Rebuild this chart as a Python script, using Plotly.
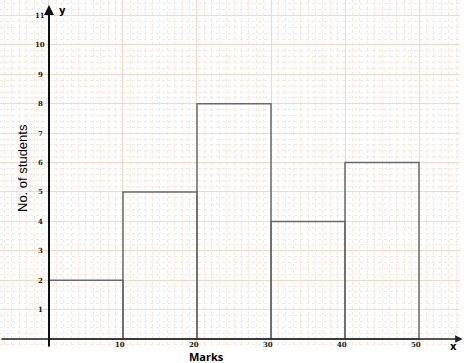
import plotly.graph_objects as go

# Data
class_starts = [0, 10, 20, 30, 40]
class_width = 10
students = [2, 5, 8, 4, 6]
x_ticks = [10, 20, 30, 40, 50]
y_ticks = [1, 2, 3, 4, 5, 6, 7, 8, 9, 10, 11]

X0, X1 = -6.62, 55.54
Y0, Y1 = -0.306, 11.53

centers = [s + class_width / 2 for s in class_starts]

fig = go.Figure()
fig.add_trace(go.Bar(
    x=centers, y=students, width=[class_width] * len(students),
    marker=dict(color="rgba(0,0,0,0)", line=dict(color="#6a6a6a", width=1.5)),
    showlegend=False, hoverinfo="skip",
))

grid_major = "#f6d8c8"
grid_minor = "#fae6dc"

fig.update_layout(
    width=468, height=363,
    margin=dict(l=0, r=8, t=0, b=15),
    paper_bgcolor="white", plot_bgcolor="white",
    xaxis=dict(range=[X0, X1], showticklabels=False, ticks="", zeroline=False,
               showgrid=True, gridcolor=grid_major, gridwidth=1, dtick=10, tick0=0,
               minor=dict(dtick=1, showgrid=True, gridcolor=grid_minor, griddash="dot", gridwidth=1),
               fixedrange=True, showline=False),
    yaxis=dict(range=[Y0, Y1], showticklabels=False, ticks="", zeroline=False,
               showgrid=True, gridcolor=grid_major, gridwidth=1, dtick=1, tick0=0,
               minor=dict(dtick=0.2, showgrid=True, gridcolor=grid_minor, griddash="dot", gridwidth=1),
               fixedrange=True, showline=False),
    font=dict(family="Liberation Sans Narrow, Arial", color="black"),
)

# axes with arrows
fig.add_annotation(x=55.9, y=0, ax=X0, ay=0, xref="x", yref="y", axref="x", ayref="y",
                   text="", showarrow=True, arrowhead=2, arrowsize=1, arrowwidth=1.5,
                   arrowcolor="#222")
fig.add_annotation(x=0, y=11.36, ax=0, ay=Y0, xref="x", yref="y", axref="x", ayref="y",
                   text="", showarrow=True, arrowhead=2, arrowsize=1, arrowwidth=2,
                   arrowcolor="#111")

# tick labels
for v in y_ticks:
    fig.add_annotation(x=-1.2, y=v, xref="x", yref="y", text=f"<b>{v}</b>", showarrow=False,
                       font=dict(size=7, family="DejaVu Serif", color="#222"))
for v in x_ticks:
    fig.add_annotation(x=v - 0.4, y=-0.19, xref="x", yref="y", text=f"<b>{v}</b>", showarrow=False,
                       font=dict(size=7, family="DejaVu Serif", color="#222"))

# axis letters
fig.add_annotation(x=1.76, y=11.16, xref="x", yref="y", text="<b>y</b>", showarrow=False,
                   font=dict(size=10, family="DejaVu Sans"))
fig.add_annotation(x=54.6, y=-0.24, xref="x", yref="y", text="<b>x</b>", showarrow=False,
                   font=dict(size=10, family="DejaVu Sans"))

# titles
fig.add_annotation(x=206 / 460, y=(348 - 356) / 348, xref="paper", yref="paper", text="<b>Marks</b>",
                   showarrow=False, font=dict(size=11, family="Open Sans"),
                   xanchor="center", yanchor="middle")
fig.add_annotation(x=22 / 460, y=(348 - 168) / 348, xref="paper", yref="paper",
                   text="No. of students", textangle=-90, showarrow=False,
                   xanchor="center", yanchor="middle",
                   font=dict(size=13, family="Liberation Sans Narrow, Arial"))

fig.write_html("out.html")
